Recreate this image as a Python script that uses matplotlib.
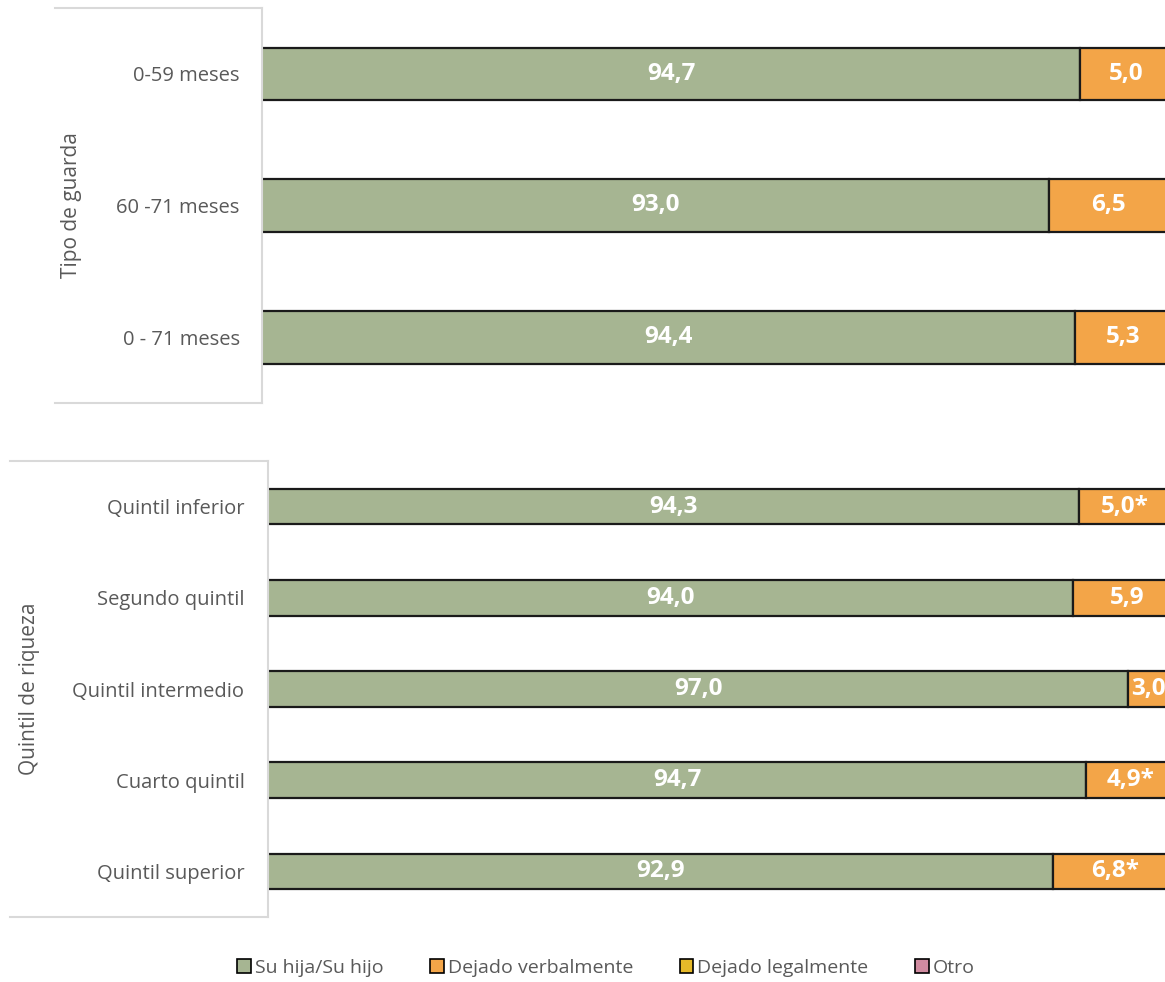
import matplotlib
matplotlib.use("Agg")
import matplotlib.pyplot as plt
from matplotlib.lines import Line2D
from matplotlib.patches import Patch

# data (percent)
guarda_cats = ["0-59 meses", "60 -71 meses", "0 - 71 meses"]
guarda_hijo = [94.7, 93.0, 94.4]
guarda_verbal = [5.0, 6.5, 5.3]
guarda_legal = [0.3, 0.5, 0.3]
guarda_otro = [0.0, 0.0, 0.0]
guarda_verbal_lbl = ["5,0", "6,5", "5,3"]

quintil_cats = ["Quintil inferior", "Segundo quintil", "Quintil intermedio",
                "Cuarto quintil", "Quintil superior"]
quintil_hijo = [94.3, 94.0, 97.0, 94.7, 92.9]
quintil_verbal = [5.0, 5.9, 3.0, 4.9, 6.8]
quintil_legal = [0.7, 0.1, 0.0, 0.4, 0.3]
quintil_otro = [0.0, 0.0, 0.0, 0.0, 0.0]
quintil_verbal_lbl = ["5,0*", "5,9", "3,0*", "4,9*", "6,8*"]

series_names = ["Su hija/Su hijo", "Dejado verbalmente", "Dejado legalmente", "Otro"]
colors = ["#a6b592", "#f3a548", "#e6b929", "#d08ba0"]

W, H = 1165, 982
FONT = "Open Sans"
GRAY = "#595959"
FRAME = "#d9d9d9"

fig = plt.figure(figsize=(W / 100, H / 100), dpi=100)


def px_axes(left, top, right, bottom):
    return fig.add_axes([left / W, 1 - bottom / H, (right - left) / W, (bottom - top) / H])


def draw_panel(ax, cats, hijo, verbal, legal, otro, verbal_lbl, bar_h, title, title_x, frame_left, pad):
    n = len(cats)
    y = list(range(n))
    left = [0.0] * n
    for vals, c in zip([hijo, verbal, legal, otro], colors):
        ax.barh(y, vals, left=left, height=bar_h, color=c, edgecolor="#1a1a1a",
                linewidth=1.6)
        left = [a + b for a, b in zip(left, vals)]
    for i in range(n):
        ax.text(50 + (hijo[i] - 50) / 2, i, f"{hijo[i]:.1f}".replace(".", ","),
                ha="center", va="center", color="white", fontsize=17.5,
                fontweight="bold", family=FONT)
        # the chart is cropped at the right edge, so this label may be cut like in the source
        ax.text(hijo[i] + verbal[i] / 2, i, verbal_lbl[i], ha="center", va="center",
                color="white", fontsize=17.5, fontweight="bold", family=FONT, clip_on=False)
    ax.set_xlim(50, 100)
    ax.set_ylim(n - 0.5, -0.5)
    ax.set_yticks(y)
    ax.set_yticklabels(cats, family=FONT, fontsize=14.5, color=GRAY)
    ax.tick_params(axis="y", length=0, pad=pad)
    ax.set_xticks([])
    for s in ["top", "right", "bottom"]:
        ax.spines[s].set_visible(False)
    ax.spines["left"].set_color(FRAME)
    ax.spines["left"].set_linewidth(1.5)
    ax.spines["left"].set_zorder(5)
    # gray frame of category labels
    bb = ax.get_position()
    for yy in [bb.y0, bb.y1]:
        fig.add_artist(Line2D([frame_left / W, bb.x0], [yy, yy], color=FRAME, lw=1.5))
    fig.text(title_x / W, (bb.y0 + bb.y1) / 2, title, rotation=90, ha="center",
             va="center", family=FONT, fontsize=15, color=GRAY)


ax1 = px_axes(262, 8, 262 + 915, 403)
draw_panel(ax1, guarda_cats, guarda_hijo, guarda_verbal, guarda_legal, guarda_otro,
           guarda_verbal_lbl, 0.40, "Tipo de guarda", 72, 55, 16)

ax2 = px_axes(268, 461, 268 + 915, 917)
draw_panel(ax2, quintil_cats, quintil_hijo, quintil_verbal, quintil_legal, quintil_otro,
           quintil_verbal_lbl, 0.39, "Quintil de riqueza", 30, 10, 17)

handles = [Patch(facecolor=c, edgecolor="black", linewidth=1.2) for c in colors]
fig.legend(handles, series_names, loc="center", bbox_to_anchor=(606 / W, 1 - 968 / H),
           ncol=4, frameon=False, prop={"family": FONT, "size": 14},
           labelcolor=GRAY, handlelength=0.7, handleheight=0.7, handletextpad=0.2,
           columnspacing=2.4)

fig.savefig("out.png", dpi=100)
